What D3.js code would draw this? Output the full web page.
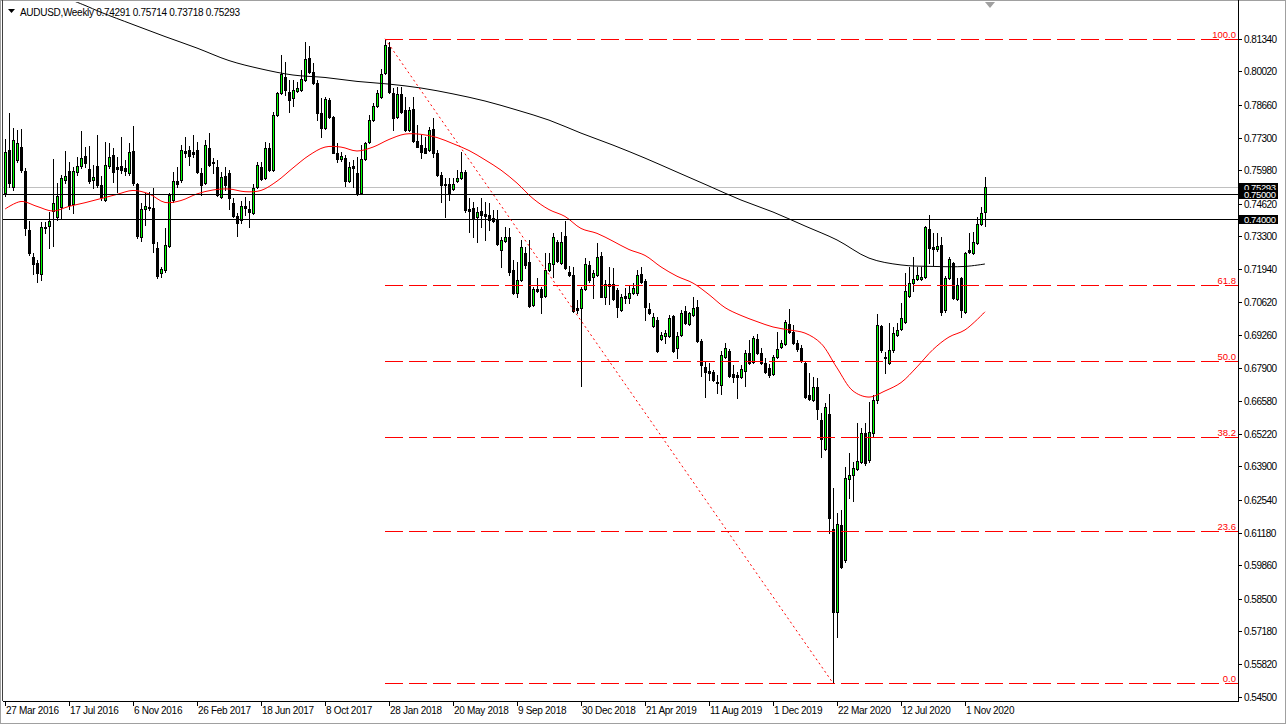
<!DOCTYPE html>
<html>
<head>
<meta charset="utf-8">
<script src="https://cdn.jsdelivr.net/npm/d3@7"></script>
<style>
  body { margin: 0; background: #fff; }
  svg text { font-family: "Liberation Sans", Arial, sans-serif; }
</style>
</head>
<body>
<script>
// weekly AUDUSD candles, one value per week (27 Mar 2016 = bar 0)
const opens = [
0.7506,0.7681,0.7530,0.7640,0.7693,0.7595,0.7355,0.7244,0.7220,0.7175,
0.7367,0.7371,0.7432,0.7408,0.7448,0.7559,0.7595,0.7461,0.7591,0.7616,
0.7657,0.7604,0.7559,0.7616,0.7538,0.7477,0.7616,0.7661,0.7612,0.7616,
0.7608,0.7587,0.7677,0.7542,0.7326,0.7440,0.7448,0.7444,0.7281,0.7179,
0.7191,0.7289,0.7477,0.7555,0.7559,0.7677,0.7681,0.7673,0.7681,0.7587,
0.7546,0.7689,0.7632,0.7612,0.7489,0.7575,0.7587,0.7465,0.7412,0.7395,
0.7452,0.7440,0.7424,0.7530,0.7612,0.7567,0.7689,0.7599,0.7824,0.7914,
0.7979,0.7918,0.7893,0.7922,0.7926,0.7967,0.8056,0.7999,0.7954,0.7832,
0.7771,0.7885,0.7816,0.7669,0.7644,0.7648,0.7555,0.7616,0.7587,0.7506,
0.7644,0.7714,0.7803,0.7861,0.7897,0.7995,0.8101,0.7914,0.7816,0.7909,
0.7844,0.7763,0.7848,0.7718,0.7701,0.7689,0.7681,0.7767,0.7669,0.7579,
0.7542,0.7542,0.7522,0.7555,0.7567,0.7591,0.7440,0.7444,0.7408,0.7432,
0.7420,0.7416,0.7404,0.7395,0.7273,0.7310,0.7326,0.7191,0.7098,0.7151,
0.7261,0.7224,0.7049,0.7114,0.7114,0.7085,0.7191,0.7216,0.7306,0.7220,
0.7330,0.7183,0.7171,0.7036,0.7036,0.7114,0.7212,0.7163,0.7171,0.7249,
0.7082,0.7134,0.7134,0.7110,0.7028,0.7085,0.7077,0.7098,0.7098,0.7175,
0.7147,0.7032,0.6963,0.6987,0.6910,0.6922,0.6922,0.7004,0.6873,0.6926,
0.7024,0.6971,0.7008,0.7040,0.6902,0.6796,0.6779,0.6775,0.6734,0.6722,
0.6836,0.6861,0.6767,0.6763,0.6755,0.6779,0.6853,0.6816,0.6910,0.6853,
0.6812,0.6792,0.6767,0.6836,0.6877,0.6890,0.6971,0.6938,0.6894,0.6873,
0.6812,0.6681,0.6661,0.6714,0.6579,0.6461,0.6604,0.6135,0.5796,0.6151,
0.6008,0.6339,0.6355,0.6380,0.6408,0.6526,0.6416,0.6526,0.6661,0.6963,
0.6836,0.6812,0.6865,0.6926,0.6951,0.6979,0.7085,0.7138,0.7155,0.7155,
0.7163,0.7359,0.7285,0.7277,0.7293,0.7028,0.7159,0.7220,0.7073,0.7159,
0.7020,0.7273,0.7261,0.7302,0.7379,0.74291
];
const highs = [
0.7726,0.7832,0.7771,0.7763,0.7767,0.7608,0.7391,0.7261,0.7232,0.7387,
0.7387,0.7428,0.7644,0.7546,0.7579,0.7677,0.7632,0.7612,0.7652,0.7758,
0.7693,0.7697,0.7620,0.7742,0.7575,0.7714,0.7710,0.7689,0.7652,0.7734,
0.7640,0.7710,0.7779,0.7546,0.7465,0.7506,0.7510,0.7526,0.7306,0.7204,
0.7363,0.7506,0.7591,0.7612,0.7701,0.7734,0.7697,0.7742,0.7714,0.7608,
0.7722,0.7750,0.7648,0.7640,0.7591,0.7612,0.7599,0.7485,0.7424,0.7473,
0.7489,0.7473,0.7542,0.7632,0.7632,0.7714,0.7710,0.7836,0.7918,0.8069,
0.8040,0.7967,0.7967,0.7958,0.8007,0.8122,0.8105,0.8036,0.7967,0.7893,
0.7897,0.7893,0.7820,0.7710,0.7673,0.7661,0.7632,0.7640,0.7652,0.7701,
0.7714,0.7824,0.7873,0.7926,0.8012,0.8135,0.8122,0.7934,0.7938,0.7938,
0.7897,0.7856,0.7897,0.7783,0.7742,0.7734,0.7775,0.7812,0.7681,0.7591,
0.7567,0.7567,0.7567,0.7599,0.7673,0.7599,0.7485,0.7469,0.7448,0.7485,
0.7469,0.7465,0.7436,0.7436,0.7326,0.7367,0.7363,0.7232,0.7224,0.7314,
0.7285,0.7314,0.7122,0.7159,0.7122,0.7261,0.7261,0.7342,0.7314,0.7346,
0.7390,0.7208,0.7204,0.7069,0.7122,0.7240,0.7228,0.7191,0.7302,0.7265,
0.7151,0.7204,0.7200,0.7118,0.7094,0.7118,0.7130,0.7138,0.7191,0.7204,
0.7155,0.7057,0.7016,0.7000,0.6938,0.6947,0.7008,0.7008,0.6938,0.7028,
0.7045,0.7020,0.7081,0.7069,0.6910,0.6816,0.6812,0.6783,0.6763,0.6861,
0.6894,0.6869,0.6804,0.6775,0.6804,0.6865,0.6906,0.6922,0.6930,0.6873,
0.6832,0.6808,0.6845,0.6938,0.6906,0.6987,0.7032,0.6967,0.6906,0.6885,
0.6816,0.6771,0.6755,0.6751,0.6608,0.6649,0.6686,0.6302,0.6200,0.6212,
0.6388,0.6445,0.6408,0.6567,0.6547,0.6567,0.6653,0.6681,0.7012,0.6967,
0.6857,0.6975,0.6959,0.6975,0.7057,0.7179,0.7204,0.7244,0.7204,0.7204,
0.7371,0.7416,0.7342,0.7342,0.7326,0.7167,0.7244,0.7224,0.7159,0.7163,
0.7265,0.7342,0.7346,0.7408,0.7448,0.75714
];
const lows = [
0.7493,0.7530,0.7518,0.7632,0.7591,0.7334,0.7253,0.7175,0.7142,0.7151,
0.7342,0.7281,0.7289,0.7395,0.7404,0.7546,0.7440,0.7424,0.7579,0.7608,
0.7612,0.7546,0.7526,0.7530,0.7477,0.7473,0.7608,0.7550,0.7510,0.7587,
0.7579,0.7579,0.7538,0.7322,0.7310,0.7375,0.7436,0.7265,0.7159,0.7163,
0.7183,0.7285,0.7469,0.7530,0.7550,0.7652,0.7620,0.7652,0.7587,0.7497,
0.7542,0.7616,0.7587,0.7493,0.7485,0.7518,0.7440,0.7408,0.7330,0.7383,
0.7416,0.7367,0.7420,0.7526,0.7559,0.7563,0.7595,0.7595,0.7820,0.7909,
0.7905,0.7836,0.7861,0.7918,0.7922,0.7963,0.7995,0.7950,0.7804,0.7734,
0.7767,0.7812,0.7667,0.7632,0.7636,0.7534,0.7550,0.7530,0.7497,0.7502,
0.7640,0.7710,0.7799,0.7856,0.7893,0.7991,0.7914,0.7763,0.7812,0.7832,
0.7759,0.7759,0.7714,0.7693,0.7648,0.7667,0.7677,0.7652,0.7575,0.7469,
0.7408,0.7477,0.7518,0.7550,0.7563,0.7428,0.7346,0.7326,0.7306,0.7367,
0.7314,0.7355,0.7387,0.7293,0.7204,0.7306,0.7171,0.7094,0.7081,0.7147,
0.7200,0.7040,0.7045,0.7102,0.7016,0.7081,0.7187,0.7163,0.7224,0.7216,
0.7196,0.7167,0.7020,0.7016,0.6718,0.7110,0.7142,0.7077,0.7167,0.7080,
0.7053,0.7053,0.7069,0.7000,0.7024,0.7057,0.7057,0.7094,0.7089,0.7138,
0.6987,0.7012,0.6959,0.6857,0.6906,0.6894,0.6918,0.6857,0.6832,0.6922,
0.6971,0.6967,0.7004,0.6898,0.6759,0.6673,0.6743,0.6739,0.6690,0.6686,
0.6832,0.6755,0.6734,0.6669,0.6751,0.6718,0.6808,0.6812,0.6849,0.6808,
0.6771,0.6755,0.6763,0.6832,0.6873,0.6885,0.6934,0.6890,0.6861,0.6816,
0.6669,0.6661,0.6657,0.6584,0.6428,0.6457,0.6118,0.5506,0.5694,0.5976,
0.6000,0.6261,0.6249,0.6376,0.6404,0.6396,0.6408,0.6510,0.6649,0.6857,
0.6771,0.6808,0.6857,0.6922,0.6947,0.6975,0.7081,0.7106,0.7151,0.7151,
0.7159,0.7220,0.7212,0.7269,0.7008,0.7020,0.7155,0.7073,0.7069,0.7000,
0.7016,0.7261,0.7257,0.7298,0.7375,0.73718
];
const closes = [
0.7673,0.7546,0.7722,0.7710,0.7599,0.7363,0.7261,0.7216,0.7179,0.7367,
0.7363,0.7391,0.7465,0.7493,0.7567,0.7575,0.7457,0.7595,0.7616,0.7648,
0.7628,0.7555,0.7571,0.7538,0.7489,0.7620,0.7652,0.7591,0.7604,0.7599,
0.7595,0.7673,0.7546,0.7330,0.7440,0.7452,0.7444,0.7302,0.7167,0.7196,
0.7293,0.7497,0.7555,0.7542,0.7681,0.7669,0.7657,0.7665,0.7591,0.7538,
0.7701,0.7620,0.7628,0.7497,0.7571,0.7538,0.7485,0.7412,0.7383,0.7452,
0.7444,0.7428,0.7526,0.7620,0.7563,0.7689,0.7599,0.7824,0.7914,0.7991,
0.7926,0.7885,0.7926,0.7934,0.7971,0.8052,0.7999,0.7954,0.7832,0.7771,
0.7889,0.7816,0.7670,0.7644,0.7657,0.7555,0.7612,0.7608,0.7502,0.7644,
0.7710,0.7803,0.7861,0.7914,0.7991,0.8109,0.7918,0.7812,0.7909,0.7836,
0.7763,0.7844,0.7718,0.7695,0.7673,0.7670,0.7763,0.7669,0.7579,0.7538,
0.7538,0.7506,0.7542,0.7567,0.7591,0.7436,0.7432,0.7404,0.7428,0.7416,
0.7412,0.7395,0.7391,0.7298,0.7314,0.7326,0.7183,0.7098,0.7151,0.7285,
0.7212,0.7045,0.7114,0.7106,0.7081,0.7191,0.7220,0.7326,0.7228,0.7306,
0.7200,0.7171,0.7024,0.7028,0.7114,0.7216,0.7151,0.7179,0.7244,0.7082,
0.7134,0.7126,0.7073,0.7040,0.7081,0.7077,0.7098,0.7118,0.7171,0.7142,
0.7040,0.7017,0.7000,0.6861,0.6926,0.6934,0.6996,0.6861,0.6922,0.7016,
0.6975,0.7016,0.7036,0.6902,0.6804,0.6775,0.6771,0.6743,0.6730,0.6845,
0.6873,0.6759,0.6755,0.6755,0.6788,0.6853,0.6812,0.6914,0.6853,0.6812,
0.6775,0.6763,0.6836,0.6869,0.6894,0.6979,0.6938,0.6894,0.6869,0.6820,
0.6673,0.6665,0.6714,0.6624,0.6502,0.6632,0.6180,0.5796,0.6155,0.5980,
0.6343,0.6355,0.6384,0.6412,0.6526,0.6404,0.6530,0.6661,0.6967,0.6865,
0.6832,0.6865,0.6934,0.6947,0.6996,0.7106,0.7138,0.7155,0.7171,0.7163,
0.7367,0.7281,0.7277,0.7289,0.7020,0.7159,0.7236,0.7077,0.7130,0.7028,
0.7261,0.7265,0.7306,0.7379,0.7424,0.75293
];

// moving averages at sample bars
const redMaIdx = [0,4,8,12,16,20,24,28,32,36,40,44,48,52,56,60,64,68,72,76,80,84,88,92,96,100,104,108,112,116,120,124,128,132,136,140,144,148,152,156,160,164,168,172,176,180,184,188,192,196,200,204,208,212,216,220,224,228,232,236,240,245];
const redMaVal = [0.7440,0.7471,0.7451,0.7432,0.7451,0.7466,0.7483,0.7500,0.7516,0.7502,0.7467,0.7475,0.7502,0.7518,0.7522,0.7511,0.7516,0.7554,0.7608,0.7659,0.7693,0.7693,0.7677,0.7693,0.7724,0.7746,0.7745,0.7732,0.7707,0.7679,0.7641,0.7599,0.7546,0.7483,0.7438,0.7410,0.7361,0.7341,0.7309,0.7275,0.7251,0.7204,0.7166,0.7138,0.7091,0.7038,0.7006,0.6981,0.6959,0.6947,0.6934,0.6892,0.6792,0.6698,0.6673,0.6698,0.6732,0.6796,0.6867,0.6918,0.6947,0.7021];
const blackMaIdx = [16,20,24,32,40,48,56,64,72,80,88,96,104,112,120,128,136,144,152,160,168,176,184,192,200,208,216,224,232,240,245];
const blackMaVal = [0.8297,0.8271,0.8243,0.8193,0.8144,0.8097,0.8046,0.8012,0.7987,0.7977,0.7961,0.7950,0.7934,0.7910,0.7881,0.7844,0.7803,0.7750,0.7701,0.7648,0.7591,0.7534,0.7477,0.7428,0.7371,0.7314,0.7240,0.7212,0.7206,0.7206,0.7216];

// objects
const fibLevels = [0, 23.6, 38.2, 50, 61.8, 100];
const fibFrom = { bar: 95, price: 0.8135 };
const fibTo = { bar: 207, price: 0.5506 };
const hLevels = [0.75, 0.74];
const bidPrice = 0.75293;

// axes
const priceTicks = [0.8134,0.8002,0.7866,0.7730,0.7598,0.7462,0.7330,0.7194,0.7062,0.6926,0.6790,0.6658,0.6522,0.6390,0.6254,0.6118,0.5986,0.5850,0.5718,0.5582,0.5450];
const timeLabels = ['27 Mar 2016','17 Jul 2016','6 Nov 2016','26 Feb 2017','18 Jun 2017','8 Oct 2017','28 Jan 2018','20 May 2018','9 Sep 2018','30 Dec 2018','21 Apr 2019','11 Aug 2019','1 Dec 2019','22 Mar 2020','12 Jul 2020','1 Nov 2020'];
const timeLabelBars = [0,16,32,48,64,80,96,112,128,144,160,176,192,208,224,240];

const W = 1286, H = 724;
const plotL = 3, plotT = 2, plotR = 1238, plotB = 701;

const svg = d3.select('body').append('svg')
  .attr('width', W).attr('height', H)
  .style('display', 'block');

svg.append('rect').attr('width', W).attr('height', H).attr('fill', '#fff');

const x = d3.scaleLinear().domain([0, 245]).range([5, 985]);
const y = d3.scaleLinear().domain([0.545, 0.8134]).range([696.8, 39]);

svg.append('defs').append('clipPath').attr('id', 'plot')
  .append('rect').attr('x', plotL).attr('y', plotT)
  .attr('width', plotR - plotL).attr('height', plotB - plotT);

const plot = svg.append('g').attr('clip-path', 'url(#plot)');

/* bid line */
plot.append('line')
  .attr('x1', plotL).attr('x2', plotR)
  .attr('y1', Math.round(y(bidPrice)) + 0.5).attr('y2', Math.round(y(bidPrice)) + 0.5)
  .attr('stroke', '#c0c0c0')
  .attr('shape-rendering', 'crispEdges');

/* candles */
const bars = opens.map((o, i) => ({ i, o, h: highs[i], l: lows[i], c: closes[i] }));
const cg = plot.append('g').attr('shape-rendering', 'crispEdges');
const candle = cg.selectAll('g').data(bars).enter().append('g');

candle.append('rect')
  .attr('x', d => Math.round(x(d.i)))
  .attr('y', d => Math.round(y(d.h)))
  .attr('width', 1)
  .attr('height', d => Math.round(y(d.l)) - Math.round(y(d.h)) + 1)
  .attr('fill', '#000');

candle.append('rect')
  .attr('x', d => Math.round(x(d.i)) - 1)
  .attr('y', d => Math.round(y(Math.max(d.o, d.c))))
  .attr('width', 3)
  .attr('height', d => Math.abs(Math.round(y(d.o)) - Math.round(y(d.c))) + 1)
  .attr('fill', '#000');

candle.filter(d => d.c > d.o && Math.abs(Math.round(y(d.o)) - Math.round(y(d.c))) >= 2)
  .append('rect')
  .attr('x', d => Math.round(x(d.i)))
  .attr('y', d => Math.round(y(d.c)) + 1)
  .attr('width', 1)
  .attr('height', d => Math.round(y(d.o)) - Math.round(y(d.c)) - 1)
  .attr('fill', '#00ff00');

/* moving averages */
const maLine = d3.line().x(d => x(d[0])).y(d => y(d[1])).curve(d3.curveCatmullRom);

plot.append('path')
  .datum(blackMaIdx.map((b, k) => [b, blackMaVal[k]]))
  .attr('d', maLine)
  .attr('fill', 'none').attr('stroke', '#000').attr('stroke-width', 1);

plot.append('path')
  .datum(redMaIdx.map((b, k) => [b, redMaVal[k]]))
  .attr('d', maLine)
  .attr('fill', 'none').attr('stroke', '#ff0000').attr('stroke-width', 1);

/* horizontal lines */
plot.selectAll('line.hl').data(hLevels).enter().append('line')
  .attr('class', 'hl')
  .attr('x1', plotL).attr('x2', plotR)
  .attr('y1', d => Math.round(y(d)) + 0.5).attr('y2', d => Math.round(y(d)) + 0.5)
  .attr('stroke', '#000')
  .attr('shape-rendering', 'crispEdges');

/* fibonacci retracement */
const fibPrice = lv => fibTo.price + (fibFrom.price - fibTo.price) * lv / 100;
const fibG = plot.append('g').attr('shape-rendering', 'crispEdges');
fibG.selectAll('line').data(fibLevels).enter().append('line')
  .attr('x1', x(fibFrom.bar)).attr('x2', plotR)
  .attr('y1', d => Math.round(y(fibPrice(d))) + 0.5)
  .attr('y2', d => Math.round(y(fibPrice(d))) + 0.5)
  .style('stroke', 'rgb(255,0,0)')
  .style('stroke-width', '1px')
  .style('stroke-dasharray', '18,6');

plot.append('line')
  .attr('x1', x(fibFrom.bar)).attr('y1', y(fibFrom.price))
  .attr('x2', x(fibTo.bar)).attr('y2', y(fibTo.price))
  .style('stroke', 'rgb(255,0,0)')
  .style('stroke-dasharray', '2,3');

svg.selectAll('text.fib').data(fibLevels).enter().append('text')
  .attr('class', 'fib')
  .attr('x', plotR - 2)
  .attr('y', d => Math.round(y(fibPrice(d))) - 1)
  .attr('text-anchor', 'end')
  .attr('font-size', 9.5)
  .attr('fill', '#ff0000')
  .text(d => d.toFixed(1));

/* frame and axes */
svg.append('rect')
  .attr('x', 0.5).attr('y', 0.5).attr('width', W - 1).attr('height', H - 1)
  .attr('fill', 'none').attr('stroke', '#a0a0a0');
svg.append('line').attr('x1', plotL - 0.5).attr('x2', plotL - 0.5).attr('y1', 0).attr('y2', plotB)
  .attr('stroke', '#404040');
svg.append('line').attr('x1', plotR + 0.5).attr('x2', plotR + 0.5).attr('y1', 0).attr('y2', plotB + 1)
  .attr('stroke', '#000');
svg.append('line').attr('x1', plotL).attr('x2', plotR + 1).attr('y1', plotB + 0.5).attr('y2', plotB + 0.5)
  .attr('stroke', '#000');

const yAxis = svg.append('g');
yAxis.selectAll('line').data(priceTicks).enter().append('line')
  .attr('x1', plotR + 1).attr('x2', plotR + 4)
  .attr('y1', d => Math.round(y(d)) + 0.5).attr('y2', d => Math.round(y(d)) + 0.5)
  .attr('stroke', '#000');
yAxis.selectAll('text').data(priceTicks).enter().append('text')
  .attr('x', plotR + 6)
  .attr('y', d => Math.round(y(d)) + 4)
  .attr('font-size', 10)
  .attr('letter-spacing', -0.5)
  .attr('fill', '#000')
  .text(d => d3.format('.5f')(d));

// price tags for bid and the two levels (the bid tag sits partly under the 0.75 tag)
const tags = [bidPrice].concat(hLevels);
const tag = svg.selectAll('g.tag').data(tags).enter().append('g').attr('class', 'tag');
tag.append('rect')
  .attr('x', plotR + 1).attr('y', d => Math.round(y(d)) - 4)
  .attr('width', 39).attr('height', 9)
  .attr('fill', '#000');
tag.append('text')
  .attr('x', plotR + 6).attr('y', d => Math.round(y(d)) + 4)
  .attr('font-size', 9.5).attr('letter-spacing', -0.4)
  .attr('fill', '#fff')
  .text(d => d3.format('.5f')(d));

const xAxis = svg.append('g');
xAxis.selectAll('line').data(timeLabelBars).enter().append('line')
  .attr('x1', d => Math.round(x(d)) + 0.5).attr('x2', d => Math.round(x(d)) + 0.5)
  .attr('y1', plotB + 1).attr('y2', plotB + 5)
  .attr('stroke', '#000');
xAxis.selectAll('text').data(timeLabels).enter().append('text')
  .attr('x', (d, k) => Math.round(x(timeLabelBars[k])) + 1)
  .attr('y', 714)
  .attr('font-size', 10).attr('letter-spacing', -0.3)
  .attr('fill', '#000')
  .text(d => d);

/* header */
svg.append('path').attr('d', 'M8,9 L15,9 L11.5,13 Z').attr('fill', '#000');
svg.append('text')
  .attr('x', 20).attr('y', 16)
  .attr('font-size', 10).attr('letter-spacing', -0.3)
  .attr('fill', '#000')
  .text('AUDUSD,Weekly 0.74291 0.75714 0.73718 0.75293');

// chart shift marker
svg.append('path').attr('d', 'M985,2 L995,2 L990,8 Z').attr('fill', '#a0a0a0');
</script>
</body>
</html>
